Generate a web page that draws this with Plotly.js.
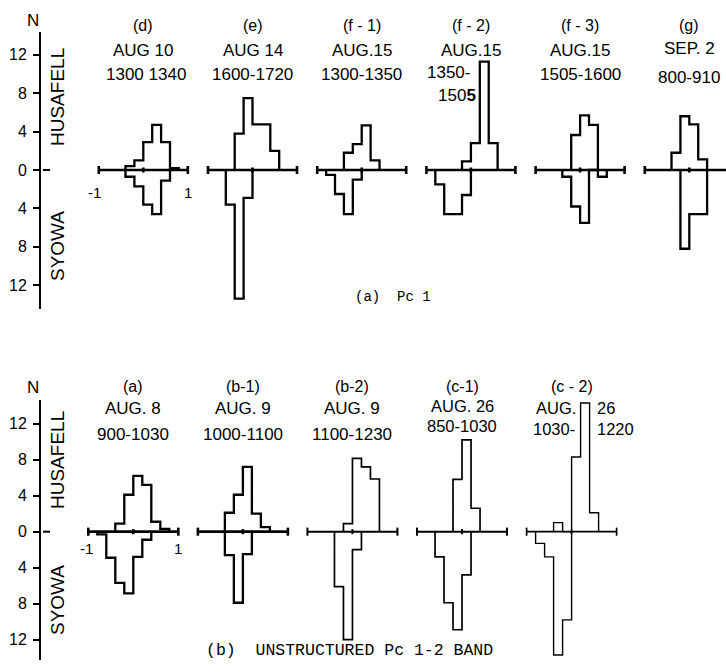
<!DOCTYPE html>
<html><head><meta charset="utf-8">
<script src="https://cdn.plot.ly/plotly-3.0.1.min.js"></script>
<style>html,body{margin:0;padding:0;background:#fff}</style>
</head><body><div id="chart" style="width:726px;height:672px"></div>
<script>
// ---------- DATA ----------
const binEdges = [-1,-0.8,-0.6,-0.4,-0.2,0,0.2,0.4,0.6,0.8,1];
const yTickVals = [-12,-8,-4,0,4,8,12];
const yTickText = ['12','8','4','0','4','8','12'];

// (a) Pc1 row
const pc1Labels = ['(d)','(e)','(f - 1)','(f - 2)','(f - 3)','(g)'];
const pc1Dates  = ['AUG 10','AUG 14','AUG.15','AUG.15','AUG.15','SEP. 2'];
const pc1Times  = ['1300 1340','1600-1720','1300-1350','','1505-1600','800-910'];
const husD  = [0,0,0,0.4,1.0,2.9,4.7,2.9,0.2,0];
const syoD  = [0,0,0,0.7,1.7,3.6,4.6,1.1,0,0];
const husE  = [0,0,0,3.8,7.5,4.75,4.75,2.0,0,0];
const syoE  = [0,0,3.6,13.4,2.9,0,0,0,0,0];
const husF1 = [0,0,0,1.8,2.7,4.65,1.0,0,0,0];
const syoF1 = [0,0.5,2.5,4.6,1.0,0,0,0,0,0];
const husF2 = [0,0,0,0,0.9,2.8,11.3,2.8,0,0];
const syoF2 = [0,1.5,4.6,4.6,2.6,0,0,0,0,0];
const husF3 = [0,0,0,0,3.65,5.7,4.7,0,0,0];
const syoF3 = [0,0,0,0.7,3.8,5.5,0,0.7,0,0];
const husG  = [0,0,0,1.8,5.6,4.75,1.1,0,0,0];
const syoG  = [0,0,0,0,8.2,4.6,4.6,0,0,0];

// (b) unstructured Pc1-2 band row
const bandLabels = ['(a)','(b-1)','(b-2)','(c-1)','(c - 2)'];
const bandDates  = ['AUG. 8','AUG. 9','AUG. 9','AUG. 26',''];
const bandTimes  = ['900-1030','1000-1100','1100-1230','850-1030',''];
const husA  = [0,0,0,0.9,4.1,6.2,5.2,1.1,0.3,0];
const syoA  = [0,0.3,2.9,5.7,6.85,2.8,0.9,0,0,0];
const husB1 = [0,0,0,2.1,4.1,7.2,2.0,0.5,0,0];
const syoB1 = [0,0,0,2.6,7.9,2.5,0,0,0,0];
const husB2 = [0,0,0,0,0.9,8.15,7.2,5.85,0,0];
const syoB2 = [0,0,0,6.1,12.0,2.0,0,0,0,0];
const husC1 = [0,0,0,0,5.8,10.2,2.6,0,0,0];
const syoC1 = [0,0,2.8,7.9,10.9,4.8,0,0,0,0];
const husC2 = [0,0,0,1.0,0,8.3,14.3,2.1,0,0];
const syoC2 = [0,1.3,2.8,13.7,9.8,0,0,0,0,0];

// ---------- BUILD ----------
const topHus = [husD,husE,husF1,husF2,husF3,husG];
const topSyo = [syoD,syoE,syoF1,syoF2,syoF3,syoG];
const botHus = [husA,husB1,husB2,husC1,husC2];
const botSyo = [syoA,syoB1,syoB2,syoC1,syoC2];

const TOP_STEP = 2.454, BOT_STEP = 2.435;
const topOff = topHus.map((_,k)=>k*TOP_STEP);
const botOff = botHus.map((_,k)=>k*BOT_STEP);

function stepPath(vals, sign, off){
  let first=-1,last=-1;
  vals.forEach((v,i)=>{ if(v>0){ if(first<0) first=i; last=i; } });
  const xs=[off+binEdges[first]], ys=[0];
  for(let i=first;i<=last;i++){
    xs.push(off+binEdges[i]); ys.push(sign*vals[i]);
    xs.push(off+binEdges[i+1]); ys.push(sign*vals[i]);
  }
  xs.push(off+binEdges[last+1]); ys.push(0);
  return {xs,ys};
}
function axisPath(off, endT, midT){
  return {
    xs:[off-1,off+1,null,off-1,off-1,null,off+1,off+1,null,off,off],
    ys:[0,0,null,-endT,endT,null,-endT,endT,null,-midT,midT]
  };
}
const traces=[];
function addPanel(hus, syo, off, xa, ya, w, endT, midT){
  const a=axisPath(off,endT,midT);
  traces.push({x:a.xs,y:a.ys,xaxis:xa,yaxis:ya,mode:'lines',line:{color:'#000',width:w+0.3},hoverinfo:'skip',showlegend:false});
  [[hus,1],[syo,-1]].forEach(([v,s])=>{
    const p=stepPath(v,s,off);
    traces.push({x:p.xs,y:p.ys,xaxis:xa,yaxis:ya,mode:'lines',line:{color:'#000',width:w},hoverinfo:'skip',showlegend:false,cliponaxis:false});
  });
}
topHus.forEach((h,k)=>addPanel(h,topSyo[k],topOff[k],'x','y',2.3,0.42,0.26));
const botW=[2.3,2.3,1.7,1.7,1.4];
botHus.forEach((h,k)=>addPanel(h,botSyo[k],botOff[k],'x2','y2',botW[k],0.45,0.28));

const W=726,H=672;
const py = p => 1-p/H;
const FONT='Liberation Sans, Arial, sans-serif';
const ann=[];
function A(text,xref,x,ypx,size,extra){
  ann.push(Object.assign({text:text,xref:xref,x:x,yref:'paper',y:py(ypx),showarrow:false,
    font:{family:FONT,size:size,color:'#000'},xanchor:'center',yanchor:'middle'},extra||{}));
}
// top headers
pc1Labels.forEach((t,k)=>A(t,'x',topOff[k],26,16));
pc1Dates.forEach((t,k)=>A(t,'x',topOff[k],k==5?49:51,17));
pc1Times.forEach((t,k)=>{ if(t) A(t,'x',topOff[k]+(k==0?0.06:0),k==5?77:74,17); });
A('1350-','x',topOff[3]-1.03,73,17,{xanchor:'left'});
A('150<b>5</b>','x',topOff[3]-0.78,95,17,{xanchor:'left'});
// bottom headers
bandLabels.forEach((t,k)=>A(t,'x2',botOff[k],387,16));
bandDates.forEach((t,k)=>{ if(t) A(t,'x2',botOff[k],k==3?406:409,k==3?16.5:17); });
bandTimes.forEach((t,k)=>{ if(t) A(t,'x2',botOff[k],k==3?426:434,k==3?16.5:17); });
A('AUG.','x2',botOff[4]+0.15,408,16.5,{xanchor:'right'});
A('26','x2',botOff[4]+0.52,408,16.5,{xanchor:'left'});
A('1030-','x2',botOff[4]+0.13,429,16.5,{xanchor:'right'});
A('1220','x2',botOff[4]+0.52,429,16.5,{xanchor:'left'});
// -1 / 1 labels
A('-1','x',topOff[0]-1.1,192,15); A('1','x',topOff[0]+1.0,192,15);
A('-1','x2',botOff[0]-1.05,548,15); A('1','x2',botOff[0]+1.0,548,15);
// N and station names
A('N','paper',33/W,20,17,{}); A('N','paper',33/W,388,17,{});
A('HUSAFELL','paper',57/W,97,19,{textangle:-90});
A('SYOWA','paper',57/W,246,19,{textangle:-90});
A('HUSAFELL','paper',57/W,460,19,{textangle:-90});
A('SYOWA','paper',57/W,600,19,{textangle:-90});
// captions
ann.push({text:'(a)&nbsp; Pc 1',xref:'paper',x:393/W,yref:'paper',y:py(297),showarrow:false,
  font:{family:'Liberation Mono, Courier New, monospace',size:14,color:'#000'}});
ann.push({text:'(b)&nbsp; UNSTRUCTURED Pc 1-2 BAND',xref:'paper',x:349/W,yref:'paper',y:py(662),showarrow:false,
  font:{family:'Liberation Mono, Courier New, monospace',size:16.5,color:'#000'}});

const yax = (range,domain,anchor)=>({range:range,domain:domain,anchor:anchor,showline:true,linecolor:'#000',linewidth:2,
  ticks:'outside',ticklen:6,tickwidth:2,tickcolor:'#000',tickvals:yTickVals,ticktext:yTickText,
  tickfont:{family:FONT,size:16,color:'#000'},showgrid:false,zeroline:false,ticklabelstandoff:3,fixedrange:true});
const xax = (range,anchor)=>({range:range,domain:[41/W,1],anchor:anchor,visible:false,fixedrange:true});

const layout={
  width:W,height:H,margin:{l:0,r:0,t:0,b:0},paper_bgcolor:'#fff',plot_bgcolor:'rgba(0,0,0,0)',
  showlegend:false,
  xaxis:xax([(41-143.3)/44.5,(726-143.3)/44.5],'y'),
  yaxis:yax([-14.5,14.4],[1-309.2/H,1-31.8/H],'x'),
  xaxis2:xax([(41-133.3)/45,(726-133.3)/45],'y2'),
  yaxis2:yax([-14.26,14.63],[1-660/H,1-400/H],'x2'),
  annotations:ann,
  shapes:[
    {type:'line',xref:'paper',x0:43/W,x1:50/W,yref:'y',y0:0,y1:0,line:{color:'#000',width:2}},
    {type:'line',xref:'paper',x0:43/W,x1:50/W,yref:'y2',y0:0,y1:0,line:{color:'#000',width:2}}
  ]
};
Plotly.newPlot('chart',traces,layout,{staticPlot:true,displayModeBar:false});
</script></body></html>
